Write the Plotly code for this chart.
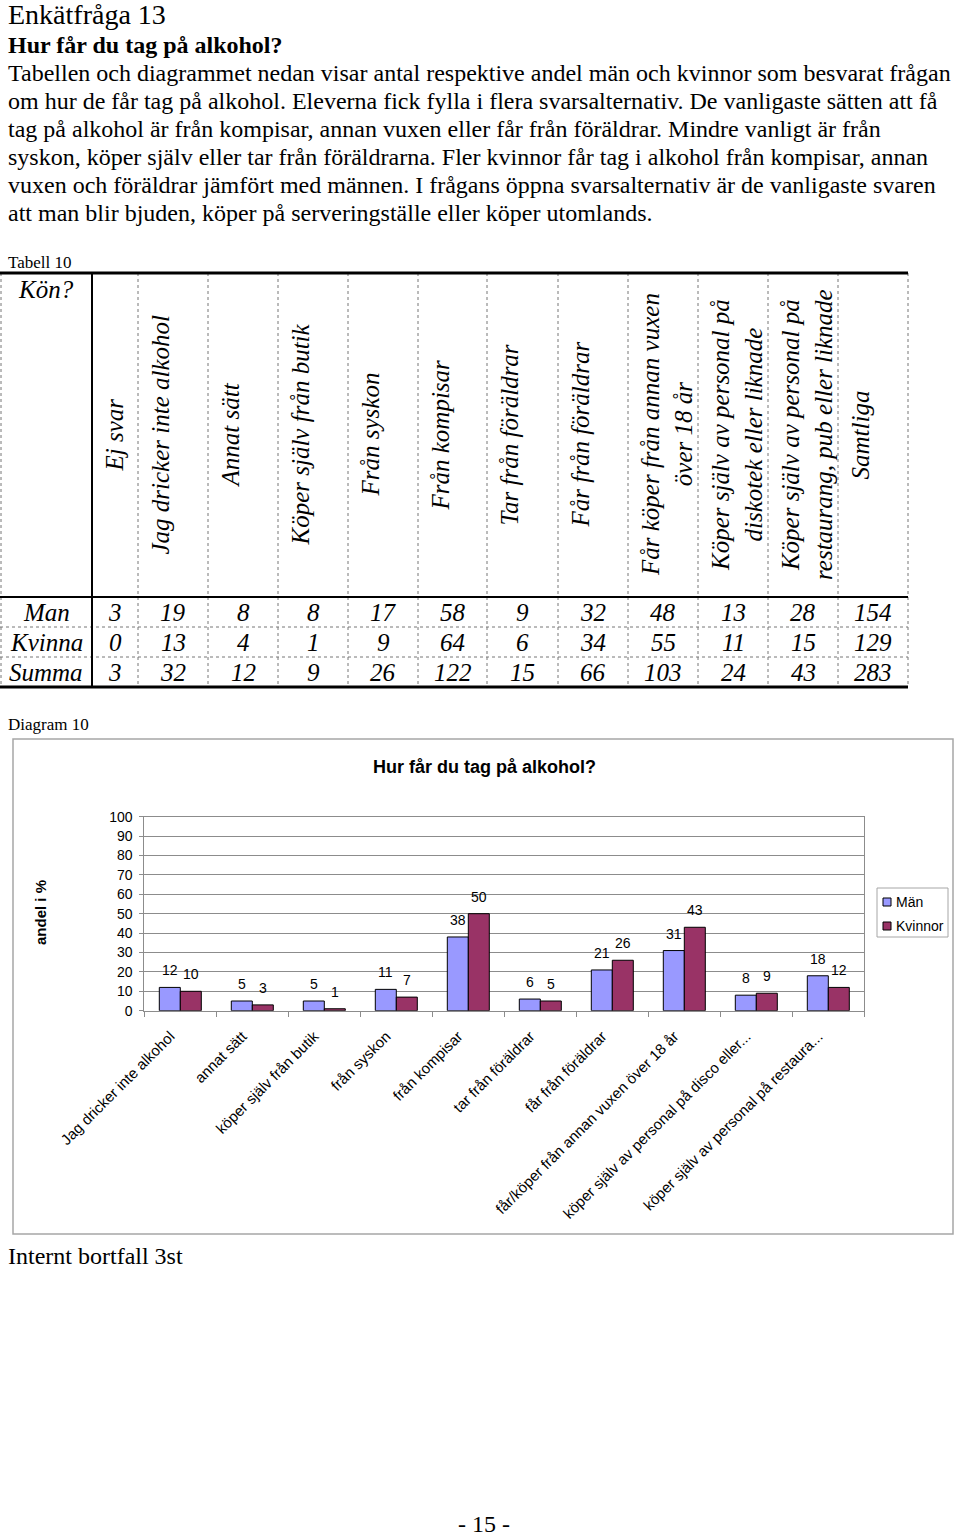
import plotly.graph_objects as go

W, H = 960, 1537
SERIF = "Liberation Serif"
SANS = "Liberation Sans"

# ---------------- data ----------------
heading = "Enkätfråga 13"
question = "Hur får du tag på alkohol?"
body_lines = [
    "Tabellen och diagrammet nedan visar antal respektive andel män och kvinnor som besvarat frågan",
    "om hur de får tag på alkohol. Eleverna fick fylla i flera svarsalternativ. De vanligaste sätten att få",
    "tag på alkohol är från kompisar, annan vuxen eller får från föräldrar. Mindre vanligt är från",
    "syskon, köper själv eller tar från föräldrarna. Fler kvinnor får tag i alkohol från kompisar, annan",
    "vuxen och föräldrar jämfört med männen. I frågans öppna svarsalternativ är de vanligaste svaren",
    "att man blir bjuden, köper på serveringställe eller köper utomlands.",
]
table_caption = "Tabell 10"
table_corner = "Kön?"
table_columns = [
    "Ej svar", "Jag dricker inte alkohol", "Annat sätt", "Köper själv från butik",
    "Från syskon", "Från kompisar", "Tar från föräldrar", "Får från föräldrar",
    "Får köper från annan vuxen<br>över 18 år",
    "Köper själv av personal på<br>diskotek eller liknade",
    "Köper själv av personal på<br>restaurang, pub eller liknade",
    "Samtliga",
]
table_rows = ["Man", "Kvinna", "Summa"]
man_counts = [3, 19, 8, 8, 17, 58, 9, 32, 48, 13, 28, 154]
kvinna_counts = [0, 13, 4, 1, 9, 64, 6, 34, 55, 11, 15, 129]
summa_counts = [3, 32, 12, 9, 26, 122, 15, 66, 103, 24, 43, 283]

diagram_caption = "Diagram 10"
chart_title = "Hur får du tag på alkohol?"
y_title = "andel i %"
chart_categories = [
    "Jag dricker inte alkohol", "annat sätt", "köper själv från butik", "från syskon",
    "från kompisar", "tar från föräldrar", "får från föräldrar",
    "får/köper från annan vuxen över 18 år",
    "köper själv av personal på disco eller...",
    "köper själv av personal på restaura...",
]
series_names = ["Män", "Kvinnor"]
man_pct = [12, 5, 5, 11, 38, 6, 21, 31, 8, 18]
kvinna_pct = [10, 3, 1, 7, 50, 5, 26, 43, 9, 12]
y_ticks = list(range(0, 101, 10))
footnote = "Internt bortfall 3st"
page_number = "- 15 -"

# ---------------- style / layout constants ----------------
COLOR_MAN = "#9999FF"
COLOR_KVINNA = "#993366"
GRID = "#8c8c8c"

TABLE_TOP = 273
HEADER_BOTTOM = 597
ROW_H = 30
FIRST_COL_W = 92
COL_WIDTHS = [46, 70, 70, 70, 70, 69, 71, 70, 70, 70, 70, 70]

PLOT_L, PLOT_R, PLOT_T, PLOT_B = 144.3, 864.3, 816.7, 1010.7


def px(x):
    return x / W


def py(y):
    return 1 - y / H


annotations = []
shapes = []


def text(x, y, s, size, family=SERIF, xanchor="left", yanchor="middle", angle=0, align="left"):
    annotations.append(dict(
        x=px(x), y=py(y), xref="paper", yref="paper", text=s, showarrow=False,
        xanchor=xanchor, yanchor=yanchor, textangle=angle, align=align,
        font=dict(family=family, size=size, color="black"),
    ))


def line(x0, y0, x1, y1, width=1, color="black", dash="solid"):
    shapes.append(dict(type="line", xref="paper", yref="paper",
                       x0=px(x0), y0=py(y0), x1=px(x1), y1=py(y1),
                       line=dict(color=color, width=width, dash=dash)))


# ---------------- page text ----------------
text(6, 14, heading, 28)
text(6, 45, f"<b>{question}</b>", 24)
for i, ln in enumerate(body_lines):
    text(6, 73 + 28 * i, ln, 24)
text(6, 263, table_caption, 17)

# ---------------- table ----------------
edges = [0, FIRST_COL_W]
for w in COL_WIDTHS:
    edges.append(edges[-1] + w)
table_right = edges[-1]
table_bottom = HEADER_BOTTOM + ROW_H * len(table_rows)

for r in range(1, len(table_rows)):
    yy = HEADER_BOTTOM + ROW_H * r
    line(0, yy, table_right, yy, 1, "#777", "dot")
for e in edges[2:]:
    line(e, TABLE_TOP, e, table_bottom, 1, "#777", "dot")
line(1, TABLE_TOP, 1, table_bottom, 1, "#777", "dot")
line(0, TABLE_TOP, table_right, TABLE_TOP, 3)
line(0, HEADER_BOTTOM, table_right, HEADER_BOTTOM, 2)
line(0, table_bottom, table_right, table_bottom, 3)
line(FIRST_COL_W, TABLE_TOP, FIRST_COL_W, table_bottom, 2)

text(FIRST_COL_W / 2, 290, f"<i>{table_corner}</i>", 25, xanchor="center")
header_mid = (TABLE_TOP + HEADER_BOTTOM) / 2
for j, col in enumerate(table_columns):
    left = edges[j + 1]
    text(left + 7, header_mid, f"<i>{col}</i>", 25, xanchor="left", angle=-90, align="center")

for r, (name, vals) in enumerate(zip(table_rows, [man_counts, kvinna_counts, summa_counts])):
    yc = HEADER_BOTTOM + ROW_H * r + ROW_H / 2
    text(FIRST_COL_W / 2, yc, f"<i>{name}</i>", 25, xanchor="center")
    for j, v in enumerate(vals):
        xc = (edges[j + 1] + edges[j + 2]) / 2
        text(xc, yc, f"<i>{v}</i>", 25, xanchor="center")

# ---------------- chart ----------------
text(6, 724, diagram_caption, 17)
shapes.append(dict(type="rect", xref="paper", yref="paper", layer="below",
                   x0=px(13), x1=px(953), y0=py(1234), y1=py(739),
                   line=dict(color="#a6a6a6", width=1.5), fillcolor="white"))
text(484, 767, f"<b>{chart_title}</b>", 18, family=SANS, xanchor="center")
text(40, 913, f"<b>{y_title}</b>", 15, family=SANS, xanchor="center", angle=-90)

fig = go.Figure()
fig.add_trace(go.Bar(x=chart_categories, y=man_pct, name=series_names[0],
                     marker=dict(color=COLOR_MAN, line=dict(color="black", width=1)),
                     showlegend=False))
fig.add_trace(go.Bar(x=chart_categories, y=kvinna_pct, name=series_names[1],
                     marker=dict(color=COLOR_KVINNA, line=dict(color="black", width=1)),
                     showlegend=False))

for vals, shift in ((man_pct, -10.5), (kvinna_pct, 10.5)):
    for c, v in zip(chart_categories, vals):
        annotations.append(dict(x=c, y=v, xref="x", yref="y", text=str(v), showarrow=False,
                                xshift=shift, yshift=17, xanchor="center", yanchor="middle",
                                font=dict(family=SANS, size=14, color="black")))

LEG_L, LEG_T, LEG_R, LEG_B = 877, 888, 948, 937
shapes.append(dict(type="rect", xref="paper", yref="paper",
                   x0=px(LEG_L), x1=px(LEG_R), y0=py(LEG_B), y1=py(LEG_T),
                   line=dict(color="#a6a6a6", width=1), fillcolor="white"))
for k, (nm, col) in enumerate(zip(series_names, [COLOR_MAN, COLOR_KVINNA])):
    yc = 902 + 24 * k
    shapes.append(dict(type="rect", xref="paper", yref="paper",
                       x0=px(883), x1=px(891), y0=py(yc + 4), y1=py(yc - 4),
                       line=dict(color="black", width=1), fillcolor=col))
    text(894, yc, nm, 14, family=SANS)

text(6, 1256, footnote, 24)
text(484, 1524, page_number, 24, xanchor="center")

fig.update_layout(
    template="none",
    width=W, height=H, autosize=False,
    margin=dict(l=0, r=0, t=0, b=0, pad=0),
    paper_bgcolor="white", plot_bgcolor="white",
    showlegend=False,
    barmode="group", bargap=30 / 72, bargroupgap=0,
    annotations=annotations, shapes=shapes,
    xaxis=dict(domain=[px(PLOT_L), px(PLOT_R)], type="category", automargin=False,
               tickson="boundaries", ticks="outside", ticklen=5, tickcolor=GRID,
               showline=True, linecolor=GRID, linewidth=1, mirror=True,
               tickangle=-45, ticklabelstandoff=10, ticklabelshift=-10,
               tickfont=dict(family=SANS, size=15, color="black"),
               showgrid=False, zeroline=False),
    yaxis=dict(domain=[py(PLOT_B), py(PLOT_T)], range=[0, 100], tickvals=y_ticks,
               automargin=False,
               showgrid=True, gridcolor=GRID, gridwidth=1, zeroline=False,
               showline=True, linecolor=GRID, linewidth=1, mirror=True,
               ticks="outside", ticklen=4, tickcolor=GRID, ticklabelstandoff=4,
               tickfont=dict(family=SANS, size=14, color="black")),
)

fig.write_html("out.html", config={"displayModeBar": False},
               post_script="document.body.style.margin='0px';document.body.style.overflow='hidden';")
